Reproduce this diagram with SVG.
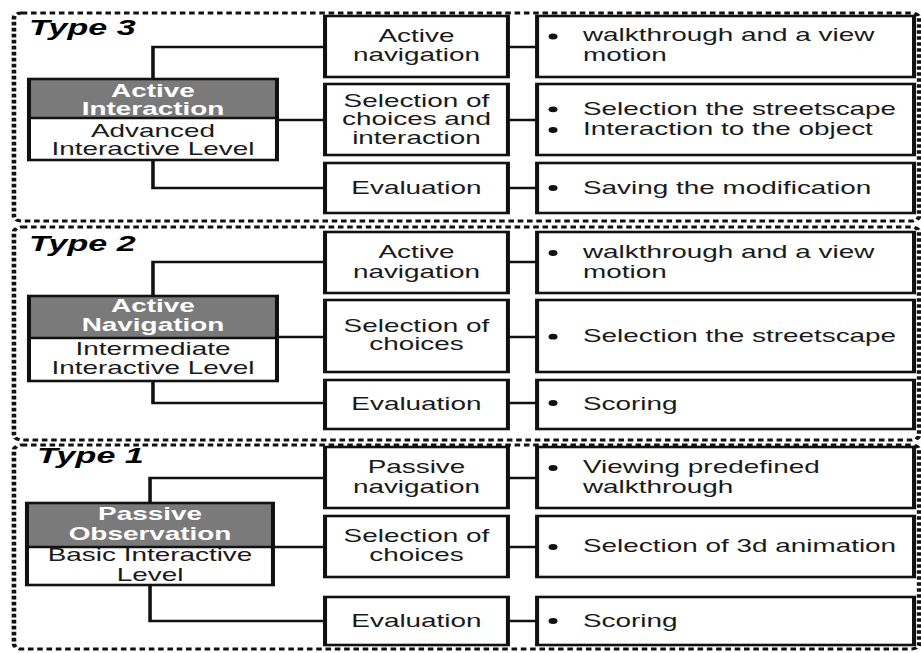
<svg xmlns="http://www.w3.org/2000/svg" width="921" height="653" viewBox="0 0 921 653">
<style>
.panel{fill:none;stroke:#111;stroke-width:3;stroke-dasharray:3.6 2.4}
.box{fill:#fff;stroke:#111;stroke-width:2.6}
.gray{fill:#7a7a7a}
.ln{fill:none;stroke:#111;stroke-width:2.3}
.t{font-family:"Liberation Sans",Arial,sans-serif;font-size:18px;fill:#1a1a1a}
.c{text-anchor:middle}
.w{fill:#fff;font-weight:bold}
.ty{font-family:"Liberation Sans",Arial,sans-serif;font-size:22px;font-weight:bold;font-style:italic;fill:#000}
.dot{fill:#111}
</style>
<rect width="921" height="653" fill="#fff"/>
<g transform="scale(1.55,1)">
  <!-- panels -->
  <g id="panel-type3">
    <rect class="panel" x="9" y="13" width="584" height="208" rx="5"/>
    <text class="ty" x="18.7" y="35">Type 3</text>
  </g>
  <g id="panel-type2">
    <rect class="panel" x="9" y="227" width="584" height="213" rx="5"/>
    <text class="ty" x="18.7" y="251">Type 2</text>
  </g>
  <g id="panel-type1">
    <rect class="panel" x="9" y="445" width="584" height="204" rx="5"/>
    <text class="ty" x="23.9" y="463">Type 1</text>
  </g>

  <!-- connectors -->
  <g id="connectors">
    <path class="ln" d="M98.7,79 V47 H209.7 M98.7,160 V188 H209.7 M178.7,120 H209.7 M327.7,47 H346.5 M327.7,120 H346.5 M327.7,188 H346.5"/>
    <path class="ln" d="M98.7,296 V262 H209.7 M98.7,381 V403 H209.7 M178.7,337 H209.7 M327.7,262 H346.5 M327.7,337 H346.5 M327.7,403 H346.5"/>
    <path class="ln" d="M96.8,503 V478 H209.7 M96.8,585 V621 H209.7 M176.1,547 H209.7 M327.7,478 H346.5 M327.7,547 H346.5 M327.7,621 H346.5"/>
  </g>

  <!-- Type 3 nodes -->
  <g id="level3">
    <rect class="gray" x="18.7" y="79" width="160" height="39"/>
    <rect class="box" x="18.7" y="79" width="160" height="81" style="fill:none"/>
    <line class="ln" x1="18.7" y1="118" x2="178.7" y2="118"/>
    <text class="t c w" x="98.7" y="97">Active</text>
    <text class="t c w" x="98.7" y="115">Interaction</text>
    <text class="t c" x="98.7" y="137">Advanced</text>
    <text class="t c" x="98.7" y="155">Interactive Level</text>
  </g>
  <g id="m3a"><rect class="box" x="209.7" y="16" width="118" height="61"/>
    <text class="t c" x="268.7" y="42">Active</text><text class="t c" x="268.7" y="61">navigation</text></g>
  <g id="m3b"><rect class="box" x="209.7" y="84" width="118" height="71"/>
    <text class="t c" x="268.7" y="107">Selection of</text><text class="t c" x="268.7" y="125">choices and</text><text class="t c" x="268.7" y="144">interaction</text></g>
  <g id="m3c"><rect class="box" x="209.7" y="163" width="118" height="50"/>
    <text class="t c" x="268.7" y="194">Evaluation</text></g>
  <g id="r3a"><rect class="box" x="346.5" y="16" width="243.2" height="61"/>
    <circle class="dot" cx="356.8" cy="36.5" r="2.9"/>
    <text class="t" x="376.1" y="41">walkthrough and a view</text><text class="t" x="376.1" y="61">motion</text></g>
  <g id="r3b"><rect class="box" x="346.5" y="84" width="243.2" height="71"/>
    <circle class="dot" cx="356.8" cy="109.3" r="2.9"/><circle class="dot" cx="356.8" cy="130" r="2.9"/>
    <text class="t" x="376.1" y="115">Selection the streetscape</text><text class="t" x="376.1" y="135">Interaction to the object</text></g>
  <g id="r3c"><rect class="box" x="346.5" y="163" width="243.2" height="50"/>
    <circle class="dot" cx="356.8" cy="188" r="2.9"/>
    <text class="t" x="376.1" y="194">Saving the modification</text></g>

  <!-- Type 2 nodes -->
  <g id="level2">
    <rect class="gray" x="18.7" y="296" width="160" height="42"/>
    <rect class="box" x="18.7" y="296" width="160" height="85" style="fill:none"/>
    <line class="ln" x1="18.7" y1="338" x2="178.7" y2="338"/>
    <text class="t c w" x="98.7" y="312">Active</text>
    <text class="t c w" x="98.7" y="331">Navigation</text>
    <text class="t c" x="98.7" y="355">Intermediate</text>
    <text class="t c" x="98.7" y="374">Interactive Level</text>
  </g>
  <g id="m2a"><rect class="box" x="209.7" y="232" width="118" height="61"/>
    <text class="t c" x="268.7" y="258">Active</text><text class="t c" x="268.7" y="278">navigation</text></g>
  <g id="m2b"><rect class="box" x="209.7" y="300" width="118" height="72"/>
    <text class="t c" x="268.7" y="332">Selection of</text><text class="t c" x="268.7" y="350">choices</text></g>
  <g id="m2c"><rect class="box" x="209.7" y="380" width="118" height="49"/>
    <text class="t c" x="268.7" y="410">Evaluation</text></g>
  <g id="r2a"><rect class="box" x="346.5" y="232" width="243.2" height="61"/>
    <circle class="dot" cx="356.8" cy="253" r="2.9"/>
    <text class="t" x="376.1" y="258">walkthrough and a view</text><text class="t" x="376.1" y="278">motion</text></g>
  <g id="r2b"><rect class="box" x="346.5" y="300" width="243.2" height="72"/>
    <circle class="dot" cx="356.8" cy="336.7" r="2.9"/>
    <text class="t" x="376.1" y="342">Selection the streetscape</text></g>
  <g id="r2c"><rect class="box" x="346.5" y="380" width="243.2" height="49"/>
    <circle class="dot" cx="356.8" cy="403" r="2.9"/>
    <text class="t" x="376.1" y="410">Scoring</text></g>

  <!-- Type 1 nodes -->
  <g id="level1">
    <rect class="gray" x="17.4" y="503" width="158.7" height="44"/>
    <rect class="box" x="17.4" y="503" width="158.7" height="82" style="fill:none"/>
    <line class="ln" x1="17.4" y1="547" x2="176.1" y2="547"/>
    <text class="t c w" x="96.8" y="520">Passive</text>
    <text class="t c w" x="96.8" y="540">Observation</text>
    <text class="t c" x="96.8" y="561">Basic Interactive</text>
    <text class="t c" x="96.8" y="581">Level</text>
  </g>
  <g id="m1a"><rect class="box" x="209.7" y="447" width="118" height="61"/>
    <text class="t c" x="268.7" y="473">Passive</text><text class="t c" x="268.7" y="493">navigation</text></g>
  <g id="m1b"><rect class="box" x="209.7" y="516" width="118" height="61"/>
    <text class="t c" x="268.7" y="542">Selection of</text><text class="t c" x="268.7" y="561">choices</text></g>
  <g id="m1c"><rect class="box" x="209.7" y="597" width="118" height="48"/>
    <text class="t c" x="268.7" y="627">Evaluation</text></g>
  <g id="r1a"><rect class="box" x="346.5" y="447" width="243.2" height="61"/>
    <circle class="dot" cx="356.8" cy="468" r="2.9"/>
    <text class="t" x="376.1" y="473">Viewing predefined</text><text class="t" x="376.1" y="493">walkthrough</text></g>
  <g id="r1b"><rect class="box" x="346.5" y="516" width="243.2" height="61"/>
    <circle class="dot" cx="356.8" cy="547" r="2.9"/>
    <text class="t" x="376.1" y="552">Selection of 3d animation</text></g>
  <g id="r1c"><rect class="box" x="346.5" y="597" width="243.2" height="48"/>
    <circle class="dot" cx="356.8" cy="621" r="2.9"/>
    <text class="t" x="376.1" y="627">Scoring</text></g>
</g>
</svg>
